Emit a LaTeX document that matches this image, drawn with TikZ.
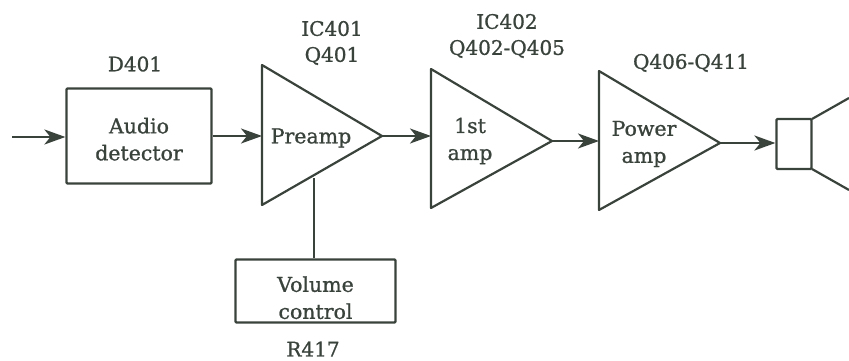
\documentclass[tikz,border=0pt]{standalone}
\usepackage{fontspec}
\setmainfont{DejaVu Serif}[RawFeature={embolden=1}]
\usepackage{xcolor}
\usetikzlibrary{arrows.meta,positioning,calc}
\definecolor{ink}{HTML}{3A423C}

\begin{document}
\begin{tikzpicture}[x=1pt,y=-1pt,
  box/.style={draw=ink,line width=2.2pt,rounded corners=1pt,font=\fontsize{20.5}{27}\selectfont,align=center,text=ink},
  lab/.style={font=\fontsize{20.5}{27}\selectfont,align=center,text=ink},
  tag/.style={font=\fontsize{20}{26}\selectfont,align=center,text=ink},
  arr/.style={-{Stealth[length=21pt,width=15pt,inset=6pt]},draw=ink,line width=2.2pt},
  wire/.style={draw=ink,line width=2.2pt}
]
\useasboundingbox (0,0) rectangle (849,361);
% amplifier triangles
\coordinate (pa1) at (262,65);
\coordinate (pa2) at (262,205);
\coordinate (pa) at (382,136);
\coordinate (fa1) at (431,69);
\coordinate (fa2) at (431,208);
\coordinate (fa) at (552,141);
\coordinate (ga1) at (599,71);
\coordinate (ga2) at (599,210);
\coordinate (ga) at (720,143);
\draw[wire,line join=round] (pa1) -- (pa) -- (pa2) -- cycle;
\draw[wire,line join=round] (fa1) -- (fa) -- (fa2) -- cycle;
\draw[wire,line join=round] (ga1) -- (ga) -- (ga2) -- cycle;
% boxes
\node[box,minimum width=145pt,minimum height=95pt] (det) at (139,136) {\rule{0pt}{22pt}Audio\\detector};
\node[box,minimum width=160pt,minimum height=62pt] (vol) at (315.5,291) {\rule{0pt}{29pt}Volume\\control};
\node[box,minimum width=35pt,minimum height=50pt] (spk) at (794,144) {};
\node[lab] (pre) at (311,138) {Preamp};
\node[lab] (fst) at (470,141) {1st\\amp};
\node[lab] (pwr) at (644,144) {Power\\amp};
% part numbers
\node[tag] (d401) at (135,64) {D401};
\node[tag] (ic401) at (332,43) {IC401\\Q401};
\node[tag] (ic402) at (507,36) {IC402\\Q402-Q405};
\node[tag] (q406) at (691,63) {Q406-Q411};
\node[tag,inner sep=0pt] (r417) at (313,349) {R417};
% connectors
\coordinate (in) at (12,137);
\coordinate (vt) at (314,178);
\coordinate (c1) at (812,119);
\coordinate (c2) at (812,169);
\coordinate (e1) at (849,98);
\coordinate (e2) at (849,190);
\draw[arr] (in) -- (det.west |- in);
\draw[arr] (det.east |- pa) -- (pa1 |- pa);
\draw[arr] (pa) -- (fa1 |- pa);
\draw[arr] (fa) -- (ga1 |- fa);
\draw[arr] (ga) -- (spk.west |- ga);
\draw[wire] (vol.north -| vt) -- (vt);
\draw[wire] (c1) -- (e1);
\draw[wire] (c2) -- (e2);
\end{tikzpicture}
\end{document}
